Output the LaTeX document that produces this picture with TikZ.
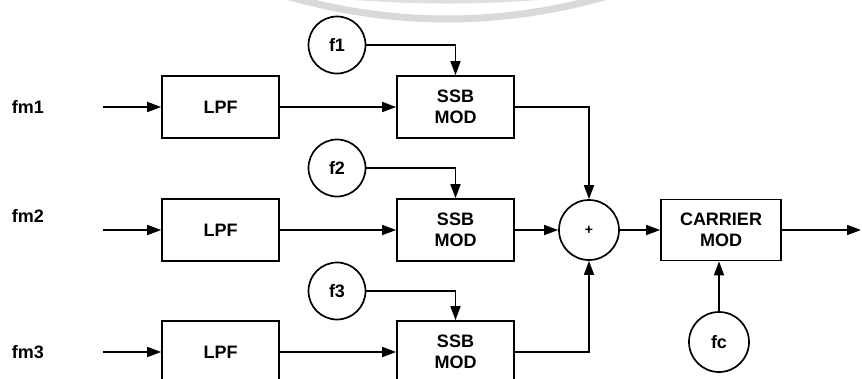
\documentclass[tikz,border=0pt]{standalone}
\usepackage{fontspec}
\setmainfont{Liberation Sans}
\usetikzlibrary{arrows.meta}

\begin{document}
\begin{tikzpicture}[x=1pt,y=-1pt,line width=1.7pt,
  >={Triangle[length=14pt,width=10pt]},
  blk/.style={draw,minimum width=117pt,minimum height=62pt,align=center,font=\fontsize{18}{21}\selectfont\bfseries},
  osc/.style={draw,circle,minimum size=57pt,inner sep=0pt,font=\fontsize{18}{21}\selectfont\bfseries},
  lbl/.style={font=\fontsize{18}{21}\selectfont\bfseries}]
\useasboundingbox (0,0) rectangle (862,378);
% faint watermark arcs
\draw[gray!30,line width=7pt] (290,-3) .. controls (395,26.3) and (499,26.3) .. (604,-3);
\draw[gray!25,line width=7pt] (310,-8) .. controls (400,2.7) and (494,2.7) .. (584,-8);
% inputs
\node[lbl] (fm1) at (28,107) {fm1};
\node[lbl] (fm2) at (28,216) {fm2};
\node[lbl] (fm3) at (28,352) {fm3};
\coordinate (in1) at (103,107);
\coordinate (in2) at (103,230);
\coordinate (in3) at (103,352);
% blocks
\node[blk] (lpf1) at (220.5,107) {LPF};
\node[blk] (lpf2) at (220.5,230) {LPF};
\node[blk] (lpf3) at (220.5,352) {LPF};
\node[blk] (ssb1) at (455.5,107) {SSB\\MOD};
\node[blk] (ssb2) at (455.5,230) {SSB\\MOD};
\node[blk] (ssb3) at (455.5,352) {SSB\\MOD};
\node[osc] (f1) at (337,45) {f1};
\node[osc] (f2) at (337,168) {f2};
\node[osc] (f3) at (337,291) {f3};
\node[osc,minimum size=60pt,font=\fontsize{14}{16}\selectfont\bfseries] (sum) at (589,230) {+};
\node[blk,minimum width=120pt,minimum height=61pt] (car) at (721,230) {CARRIER\\MOD};
\node[osc,minimum size=60pt] (fc) at (719,342) {fc};
\coordinate (out) at (861,230);
% connections
\draw[->] (in1) -- (lpf1);
\draw[->] (in2) -- (lpf2);
\draw[->] (in3) -- (lpf3);
\draw[->] (lpf1) -- (ssb1);
\draw[->] (lpf2) -- (ssb2);
\draw[->] (lpf3) -- (ssb3);
\draw[->] (f1) -| (ssb1);
\draw[->] (f2) -| (ssb2);
\draw[->] (f3) -| (ssb3);
\draw[->] (ssb1) -| (sum);
\draw[->] (ssb2) -- (sum);
\draw[->] (ssb3) -| (sum);
\draw[->] (sum) -- (car);
\draw[->] (car) -- (out);
\draw[->] (fc) -- (fc |- car.south);
\end{tikzpicture}
\end{document}
